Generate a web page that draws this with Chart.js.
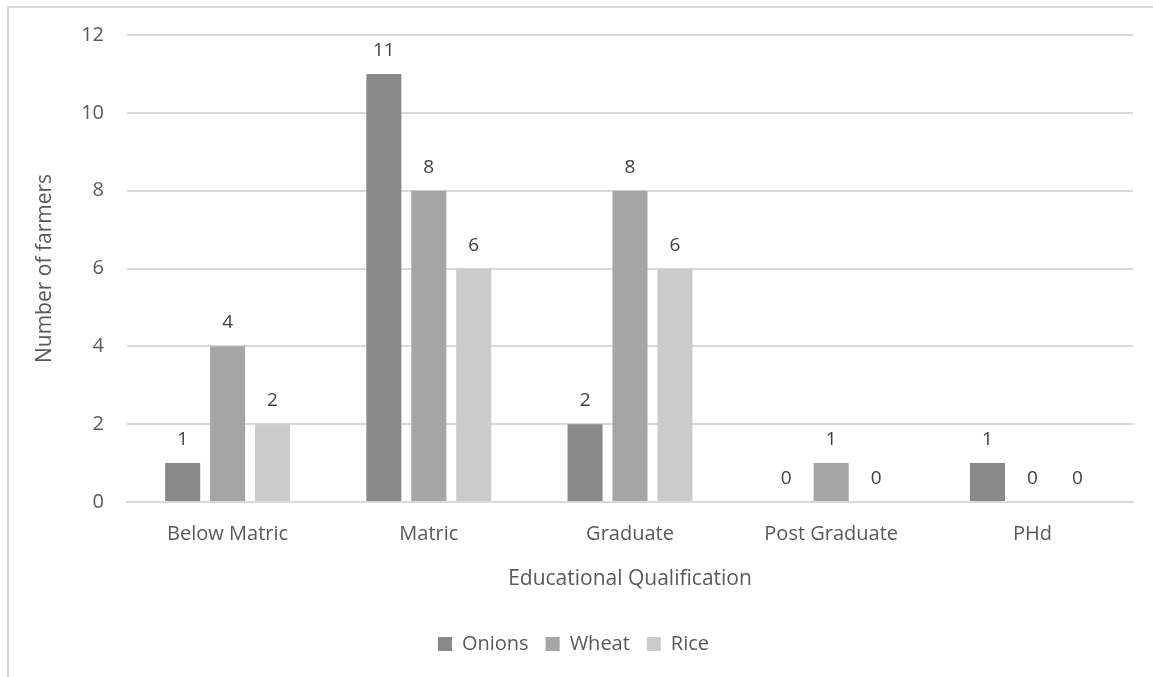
<!DOCTYPE html>
<html>
<head>
<meta charset="utf-8">
<title>Educational Qualification</title>
<script src="https://cdn.jsdelivr.net/npm/chart.js@4/dist/chart.umd.min.js"></script>
<style>
  html, body { margin: 0; padding: 0; background: #fff; overflow: hidden; }
  #wrap { position: absolute; left: 0; top: 0; width: 1153px; height: 677px; }
  #chart { position: absolute; left: 0; top: 0; }
  .frame {
    position: absolute; left: 7px; top: 6px; width: 1200px; height: 720px; z-index: 2;
    border: 2px solid #d9d9d9; box-sizing: border-box; pointer-events: none;
  }
</style>
</head>
<body>
<div id="wrap">
  <canvas id="chart" width="1153" height="677"></canvas>
  <div class="frame"></div>
</div>
<script>
const FONT = "'Open Sans', 'Noto Sans', sans-serif";

const categories = ["Below Matric", "Matric", "Graduate", "Post Graduate", "PHd"];
const onions = [1, 11, 2, 0, 1];
const wheat = [4, 8, 8, 1, 0];
const rice = [2, 6, 6, 0, 0];
const yTicks = [0, 2, 4, 6, 8, 10, 12];

// value labels above each bar, including the zero ones
const barLabels = {
  id: "barLabels",
  afterDatasetsDraw(chart) {
    const ctx = chart.ctx;
    ctx.save();
    ctx.font = "19px " + FONT;
    ctx.fillStyle = "#404040";
    ctx.textAlign = "center";
    ctx.textBaseline = "alphabetic";
    chart.data.datasets.forEach((ds, i) => {
      chart.getDatasetMeta(i).data.forEach((bar, j) => {
        ctx.fillText(String(ds.data[j]), bar.x, bar.y - 18);
      });
    });
    ctx.restore();
  },
};

Chart.defaults.font.family = FONT;
Chart.defaults.color = "#595959";

new Chart(document.getElementById("chart"), {
  type: "bar",
  data: {
    labels: categories,
    datasets: [
      { label: "Onions", data: onions, backgroundColor: "#898989" },
      { label: "Wheat", data: wheat, backgroundColor: "#a5a5a5" },
      { label: "Rice", data: rice, backgroundColor: "#cbcbcb" },
    ],
  },
  options: {
    responsive: false,
    animation: false,
    datasets: { bar: { categoryPercentage: 0.67, barPercentage: 0.78 } },
    layout: { padding: { left: 14, right: 20, top: 32, bottom: 13 } },
    plugins: {
      tooltip: { enabled: false },
      legend: {
        position: "bottom",
        labels: {
          boxWidth: 14, boxHeight: 14, padding: 17,
          font: { size: 20 }, color: "#595959",
        },
      },
    },
    scales: {
      x: {
        grid: { display: false, drawTicks: false },
        border: { color: "#d9d9d9", width: 2 },
        ticks: { padding: 20, font: { size: 20 }, color: "#595959" },
        title: {
          display: true, text: "Educational Qualification",
          font: { size: 21 }, color: "#595959", padding: { top: 14, bottom: 25 },
        },
        afterFit(scale) { scale.height = 115; },
      },
      y: {
        min: 0, max: 12,
        afterBuildTicks(scale) { scale.ticks = yTicks.map(v => ({ value: v })); },
        grid: { color: "#d9d9d9", lineWidth: 2, drawTicks: false },
        border: { display: false },
        ticks: { padding: 23, font: { size: 20 }, color: "#595959" },
        title: {
          display: true, text: "Number of farmers",
          font: { size: 21 }, color: "#595959", padding: { top: 18, bottom: 10 },
        },
        afterFit(scale) { scale.width = 113; },
      },
    },
  },
  plugins: [barLabels],
});
</script>
</body>
</html>
